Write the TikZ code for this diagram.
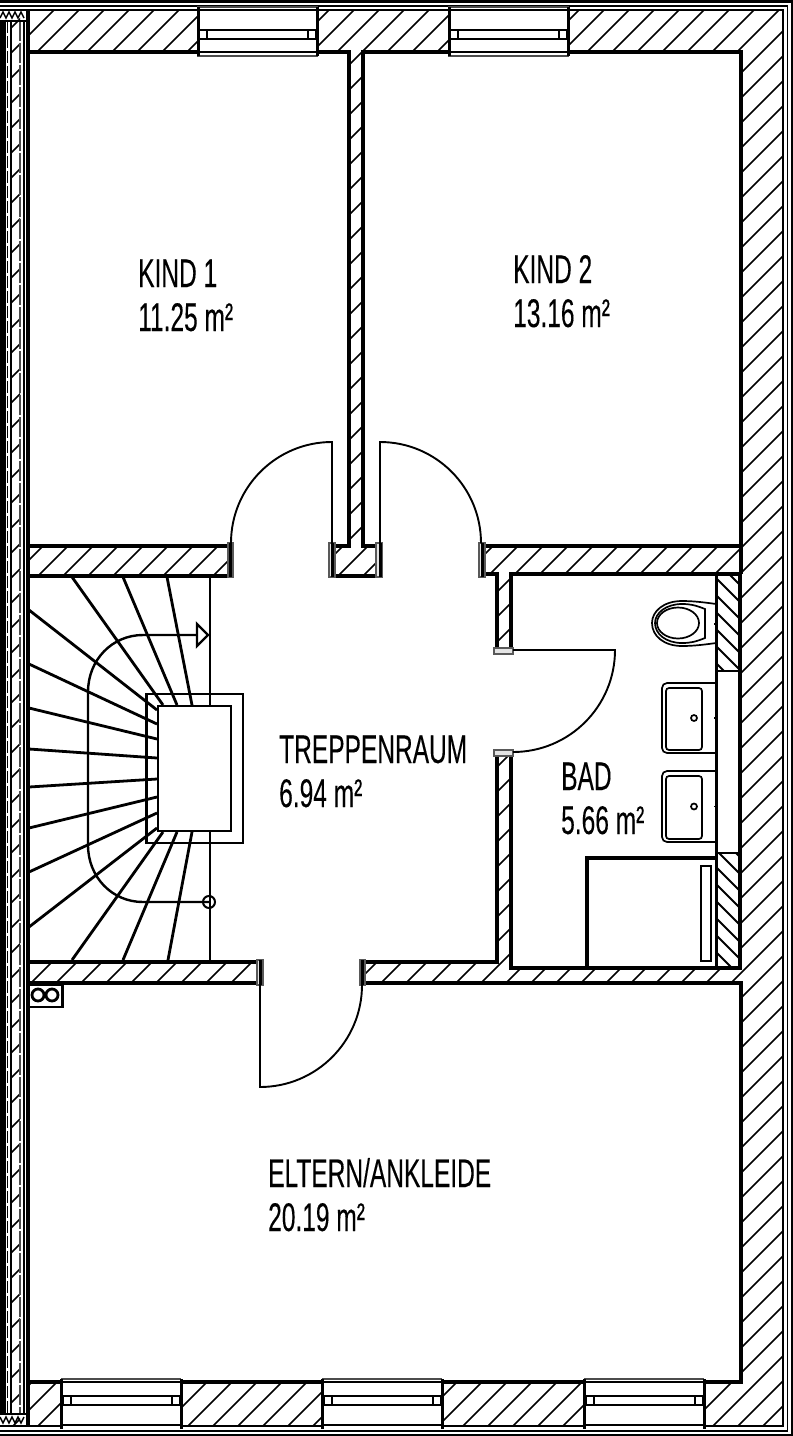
\documentclass[tikz,border=0pt]{standalone}
\usepackage{fontspec}
\setmainfont[FakeStretch=0.613,FakeBold=0.2]{Liberation Sans}
\usetikzlibrary{calc}
\tikzset{
  hatchline/.style={line width=1.5pt,black},
  wall/.style={line width=4.2pt,black,line cap=butt,line join=miter},
  room/.style={fill=white,draw=none},
  label/.style={anchor=base west,inner sep=0pt,font=\fontsize{40}{40}\selectfont},
  tread/.style={line width=2.8pt,black},
  door/.style={line width=1.9pt,black},
  fixture/.style={line width=1.7pt,black},
  jambbox/.style={line width=1.2pt,draw=black!65,fill=black!10},
  jambbar/.style={line width=3pt,black}
}
\newcommand{\windowtop}[1]{%
  \fill[white] (#1,7) rectangle ++(119,49);
  \draw[line width=1.2pt,black!70] (#1-1,7) -- ++(121,0) (#1-1,56) -- ++(121,0);
  \draw[line width=2.4pt] (#1,10) -- ++(119,0) (#1,52) -- ++(119,0);
  \draw[line width=3pt] (#1,7) -- (#1,56) (#1+119,7) -- (#1+119,56);
  \draw[line width=2.6pt] (#1,30) -- ++(119,0) (#1,39) -- ++(119,0);
  \draw[line width=2.2pt,fill=white] (#1+1,30) rectangle ++(8,9) (#1+110,30) rectangle ++(8,9);
}
\newcommand{\windowbot}[1]{%
  \fill[white] (#1,1379) rectangle ++(120,50);
  \draw[line width=1.2pt,black!70] (#1,1379) -- ++(120,0);
  \draw[line width=2.4pt] (#1,1382) -- ++(120,0) (#1,1425) -- ++(120,0);
  \draw[line width=3pt] (#1,1379) -- (#1,1429) (#1+120,1379) -- (#1+120,1429);
  \draw[line width=2.6pt] (#1,1396) -- ++(120,0) (#1,1405) -- ++(120,0);
  \draw[line width=2.2pt,fill=white] (#1+2,1396) rectangle ++(8,9) (#1+111,1396) rectangle ++(8,9);
}
\newcommand{\sink}[2]{%
  \draw[fixture,rounded corners=5pt] (716,#1) -- (662,#1) -- (662,#2) -- (716,#2);
  \draw[fixture,rounded corners=3pt] (666,#1+5) rectangle (702,#2-3);
  \draw[fixture] (694,{(#1+#2)/2}) circle (3);
  \draw[fixture] (714,{(#1+#2)/2}) -- (717,{(#1+#2)/2});
}
\begin{document}
\begin{tikzpicture}[x=1pt,y=-1pt]
\useasboundingbox (0,0) rectangle (793,1436);
\fill[white] (0,0) rectangle (793,1436);

% general wall hatching
\begin{scope}
  \clip (11,10) rectangle (20,1425) (29,10) rectangle (783,1425);
  \foreach \k in {0,...,90} {
    \draw[hatchline] ({14+25*\k},0) -- ({14+25*\k-1500},1500);
  }
\end{scope}

% rooms cut out of the hatching
\fill[room] (28,52) rectangle (349,546);
\fill[room] (363,52) rectangle (741,546);
\fill[room] (28,983) rectangle (741,1382);
\fill[room] (510,574) rectangle (741,968);
\fill[room] (28,576) -- (231,576) -- (231,546) -- (331,546) -- (331,576) -- (381,576) -- (381,546) -- (482,546) -- (482,574) -- (497,574) -- (497,962) -- (363,962) -- (363,983) -- (260,983) -- (260,962) -- (28,962) -- cycle;
\fill[room] (497,650) rectangle (511,752);

% reverse hatching of the bath installation walls
\begin{scope}
  \clip (717,575) rectangle (739,671) (717,853) rectangle (739,968);
  \foreach \k in {0,...,30} {
    \draw[line width=2pt] (700,{545+17*\k}) -- (760,{605+17*\k});
  }
\end{scope}
\draw[line width=2.4pt] (716,671) -- (740,671) (716,853) -- (740,853);
\draw[line width=2.4pt] (716.5,575) -- (716.5,968);

% outer frame: three nested lines
\draw[line width=3.2pt] (0,1.6) -- (793,1.6);
\draw[line width=1.8pt] (0,6) -- (788,6);
\draw[line width=2.4pt] (0,10) -- (783,10) -- (783,1426) -- (0,1426);
\draw[line width=1.8pt] (0,1431) -- (788,1431) (787.5,6) -- (787.5,1431);
\draw[line width=2.4pt] (0,1435) -- (793,1435) (791.8,0) -- (791.8,1436);

% left wall layers
\fill (0,21) rectangle (5.6,1414);
\draw[line width=1.2pt,dash pattern=on 12pt off 3pt] (7.5,21) -- (7.5,1414);
\draw[line width=2.2pt] (11,21) -- (11,1414);
\draw[line width=1.4pt,black!70,dash pattern=on 20pt off 2pt] (20,21) -- (20,1414);
\draw[line width=2.4pt] (24,21) -- (24,1414);
\draw[line width=4.2pt] (28,10) -- (28,1425);
\draw[line width=1.6pt] (0,21) -- (26,21) (0,1414) -- (26,1414);
\draw[line width=1.4pt] (0,18) -- (3,12) -- (6,18) -- (9,12) -- (12,18) -- (15,12) -- (18,18) -- (21,12) -- (24,18);
\draw[line width=1.4pt] (0,1417) -- (3,1423) -- (6,1417) -- (9,1423) -- (12,1417) -- (15,1423) -- (18,1417) -- (21,1423) -- (24,1417);

% walls
\draw[wall] (231,546) -- (28,546) -- (28,52) -- (349,52) -- (349,546) -- (331,546);
\draw[wall] (381,546) -- (363,546) -- (363,52) -- (741,52) -- (741,546) -- (482,546);
\draw[wall] (331,576) -- (381,576);
\draw[wall] (28,576) -- (231,576);
\draw[wall] (482,574) -- (497,574) -- (497,650);
\draw[wall] (497,752) -- (497,962) -- (363,962);
\draw[wall] (511,650) -- (511,574) -- (740,574) -- (740,968) -- (511,968) -- (511,752);
\draw[wall] (28,962) -- (260,962);
\draw[wall] (28,983) -- (260,983);
\draw[wall] (363,983) -- (741,983) -- (741,1382) -- (28,1382);
\draw[wall] (741,546) -- (741,574);

% door jambs
\foreach \x/\y/\w/\h in {228/543/5/34,329/543/6/34,376/543/6/34,479/543/6/34,257/960/6/25,360/960/5/25} {
  \draw[jambbox] (\x,\y) rectangle ++(\w,\h);
}
\foreach \x/\ya/\yb in {230/543/577,332/543/577,380/543/577,482/543/577,260/960/985,362/960/985} {
  \draw[jambbar] (\x,\ya) -- (\x,\yb);
}
\draw[jambbox] (494,648) rectangle (513,654);
\draw[jambbox] (494,750) rectangle (513,756);

% doors
\draw[door] (231,543) arc[start angle=180,end angle=270,radius=101] -- (332,543);
\draw[door] (380,543) -- (380,442) arc[start angle=270,end angle=360,radius=101];
\draw[door] (513,650) -- (615,650) arc[start angle=0,end angle=90,radius=102];
\draw[door] (260,985) -- (260,1087) arc[start angle=90,end angle=0,radius=102];

% stairs
\draw[line width=2.4pt] (210,576) -- (210,962);
\foreach \xa/\ya/\xb/\yb in {
  72/577/163/705, 123/577/177/705, 167/577/192/705,
  29/610/157/710, 29/664/157/724, 29/708/157/739, 29/749/157/758,
  29/787/157/779, 29/828/157/797, 29/872/157/813, 29/927/157/828,
  72/960/163/832, 123/960/177/832, 168/960/192/832} {
  \draw[tread] (\xa,\ya) -- (\xb,\yb);
}
\draw[line width=2.6pt] (146.5,694) rectangle (243,843);
\draw[line width=2.8pt,fill=white] (158,706) rectangle (231,831);
\draw[line width=2.4pt] (208,635) -- (143,635) .. controls (112,635) and (88,660) .. (88,692) -- (88,845) .. controls (88,877) and (112,902) .. (143,902) -- (209,902);
\draw[line width=2.4pt,fill=white] (197,624) -- (208,635) -- (197,646) -- cycle;
\draw[line width=2pt] (209,902) circle (6);

% shaft
\draw[line width=2.8pt] (29,985) -- (62.5,985) -- (62.5,1007) -- (29,1007);
\draw[line width=2.8pt] (38,995) circle (6) (52,995) circle (6);

% bath: toilet
\draw[fixture] (716,604) .. controls (702,602) and (692,601) .. (682,601) .. controls (664,601) and (652,611) .. (652,623) .. controls (652,636) and (664,646) .. (682,646) .. controls (692,646) and (702,645) .. (716,643);
\draw[fixture] (705,609) .. controls (695,605) and (690,604) .. (682,604) .. controls (666,604) and (655,613) .. (655,623) .. controls (655,634) and (666,643) .. (682,643) .. controls (690,643) and (695,642) .. (705,638) -- cycle;
\draw[fixture] (678,623) ellipse (21 and 15.5);
\draw[fixture] (714,624) -- (717,624);
% sinks
\sink{683}{753}
\sink{771}{842}
% bathtub
\draw[line width=3.2pt] (587,968) -- (587,858) -- (716,858);
\draw[line width=2.4pt] (701,866) rectangle (711,961);

% windows
\windowtop{198}
\windowtop{449}
\windowbot{61}
\windowbot{322}
\windowbot{584}

% labels
\node[label] (k1a) at (138,287) {KIND 1};
\node[label] (k1b) at (138,331) {11.25 m²};
\node[label] (k2a) at (513,283) {KIND 2};
\node[label] (k2b) at (513,327) {13.16 m²};
\node[label] (tra) at (279,763) {TREPPENRAUM};
\node[label] (trb) at (279,807) {6.94 m²};
\node[label] (bda) at (561,790) {BAD};
\node[label] (bdb) at (561,834) {5.66 m²};
\node[label] (ela) at (268,1187) {ELTERN/ANKLEIDE};
\node[label] (elb) at (268,1231) {20.19 m²};
\end{tikzpicture}
\end{document}
